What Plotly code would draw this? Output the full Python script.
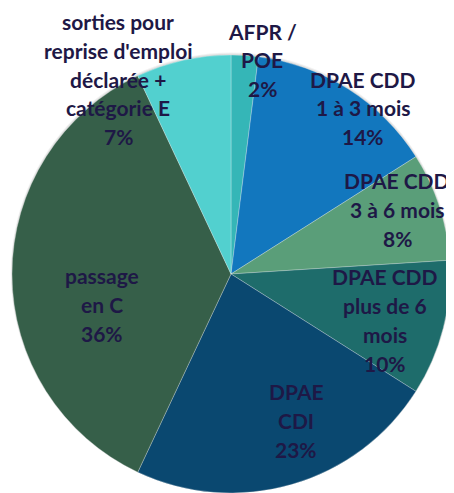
import plotly.graph_objects as go

# Data
labels = ["AFPR /<br>POE", "DPAE CDD<br>1 à 3 mois", "DPAE CDD<br>3 à 6 mois",
          "DPAE CDD<br>plus de 6<br>mois", "DPAE<br>CDI", "passage<br>en C",
          "sorties pour<br>reprise d'emploi<br>déclarée +<br>catégorie E"]
values = [2, 14, 8, 10, 23, 36, 7]
colors = ["#35B6B7", "#1277BE", "#5A9E79", "#1E6C6B", "#0A4870", "#365F49", "#52D0CF"]

# label centre positions (pixels in the 454x493 window)
label_pos = [(262, 60), (363, 108), (397, 209), (385, 320), (296, 420), (102, 304), (118, 79)]

OFF = 8                 # browser body margin
W, H = 454 - OFF, 493 - OFF
CX, CY, R = 231 - OFF, 274 - OFF, 219
LINE = 29
TEXT_COLOR = "#1E1846"
FONT = "Lato"

fig = go.Figure()

# soft shadow behind the pie
for k, a in [(3.5, 0.05), (2.5, 0.06), (1.5, 0.08)]:
    rr = R + k
    fig.add_trace(go.Pie(
        values=[1], labels=["shadow"], sort=False,
        marker=dict(colors=[f"rgba(0,0,0,{a})"], line=dict(width=0)),
        textinfo="none", hoverinfo="skip", showlegend=False,
        domain=dict(x=[(CX - rr) / W, (CX + rr) / W],
                    y=[max(0, 1 - (CY + 1 + rr) / H), min(1, 1 - (CY + 1 - rr) / H)]),
    ))

fig.add_trace(go.Pie(
    labels=[l.replace("<br>", " ") for l in labels],
    values=values,
    sort=False,
    direction="clockwise",
    rotation=0,
    marker=dict(colors=colors, line=dict(color="rgba(255,255,255,0.45)", width=0.6)),
    textinfo="none",
    hoverinfo="label+percent",
    showlegend=False,
    domain=dict(x=[(CX - R) / W, (CX + R) / W], y=[1 - (CY + R) / H, 1 - (CY - R) / H]),
))

annotations = []
total = sum(values)
for lab, v, (cx, cy) in zip(labels, values, label_pos):
    lines = lab.split("<br>") + [f"{round(100 * v / total)}%"]
    n = len(lines)
    for i, t in enumerate(lines):
        py = cy - OFF + (i - (n - 1) / 2) * LINE
        annotations.append(dict(
            x=(cx - OFF) / W, y=1 - py / H, xref="paper", yref="paper",
            text=t, showarrow=False,
            xanchor="center", yanchor="middle",
            font=dict(family=FONT, size=21, color=TEXT_COLOR, weight=700),
        ))

fig.update_layout(
    width=W, height=H,
    margin=dict(l=0, r=0, t=0, b=0),
    paper_bgcolor="white",
    plot_bgcolor="white",
    annotations=annotations,
)

fig.write_html("out.html")
